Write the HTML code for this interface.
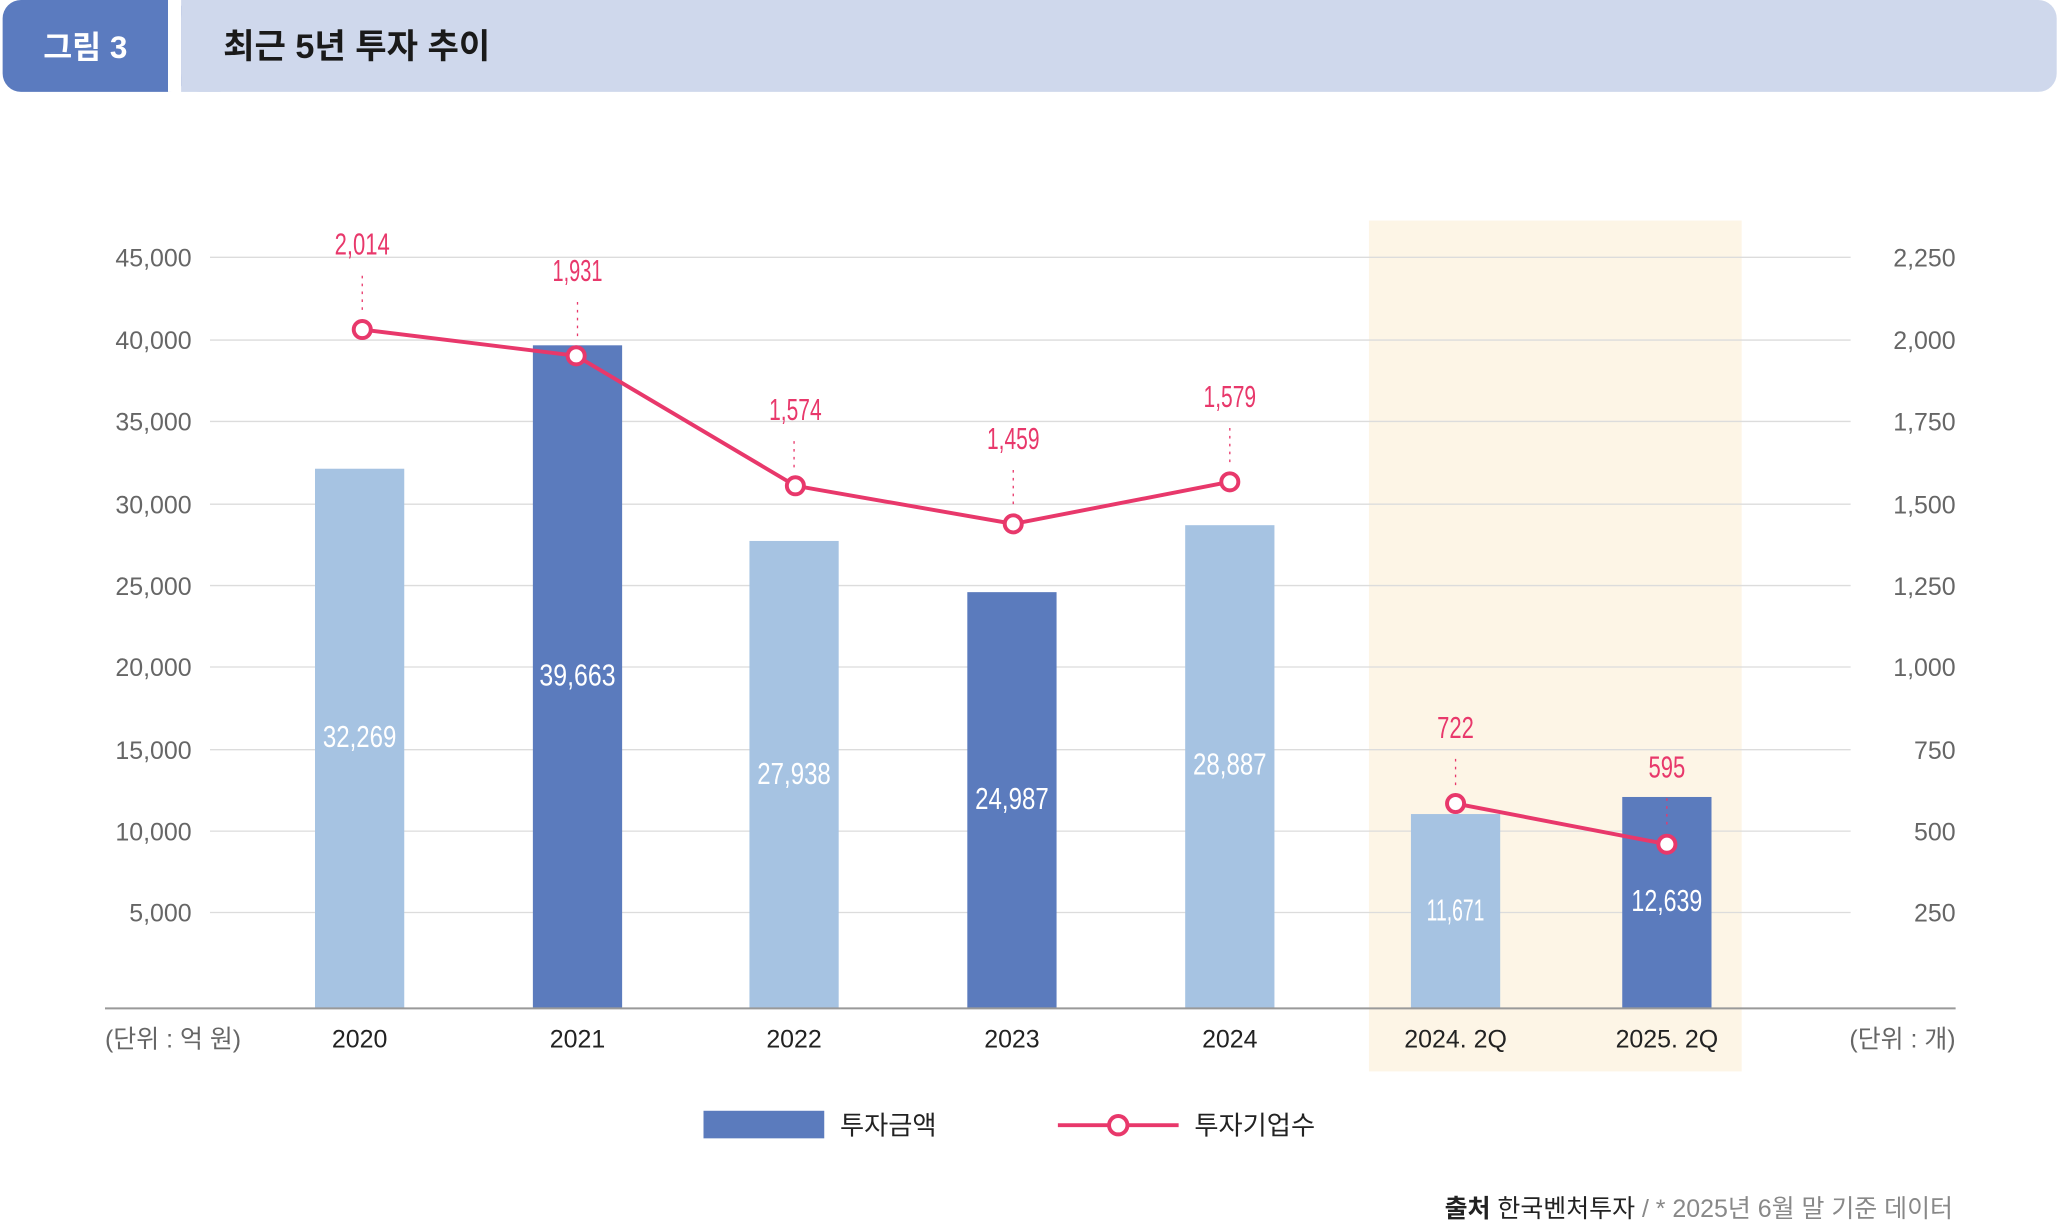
<!DOCTYPE html>
<html><head><meta charset="utf-8"><style>
html,body{margin:0;padding:0;background:#fff;}
svg{display:block;}
text{font-family:"Liberation Sans","Noto Sans CJK KR",sans-serif;}
</style></head><body>
<svg width="2058" height="1225" viewBox="0 0 1568 933" preserveAspectRatio="none" xmlns="http://www.w3.org/2000/svg">
<rect x="2" y="0" width="140" height="70" rx="14" fill="#5b7bbf"/>
<rect x="128" y="0" width="10" height="70" fill="#fff"/>
<text x="65" y="44" font-size="24" font-weight="bold" fill="#fff" text-anchor="middle">그림 3</text>
<rect x="138" y="0" width="1429" height="70" rx="14" fill="#cfd8ec"/>
<rect x="138" y="0" width="30" height="70" fill="#cfd8ec"/>
<text x="170" y="44" font-size="26" font-weight="bold" fill="#1a1a1a">최근 5년 투자 추이</text>

<rect x="1043" y="168" width="284" height="648" fill="#fdf5e6"/>

<g stroke="#dcdcdc" stroke-width="1">
<line x1="160" x2="1410" y1="196" y2="196"/><line x1="160" x2="1410" y1="259" y2="259"/>
<line x1="160" x2="1410" y1="321" y2="321"/><line x1="160" x2="1410" y1="384" y2="384"/>
<line x1="160" x2="1410" y1="446" y2="446"/><line x1="160" x2="1410" y1="508" y2="508"/>
<line x1="160" x2="1410" y1="571" y2="571"/><line x1="160" x2="1410" y1="633" y2="633"/>
<line x1="160" x2="1410" y1="695" y2="695"/>
</g>
<g font-size="19" fill="#666" text-anchor="end">
<text x="146" y="203">45,000</text><text x="146" y="266">40,000</text><text x="146" y="328">35,000</text>
<text x="146" y="391">30,000</text><text x="146" y="453">25,000</text><text x="146" y="515">20,000</text>
<text x="146" y="578">15,000</text><text x="146" y="640">10,000</text><text x="146" y="702">5,000</text>
</g>
<g font-size="19" fill="#666" text-anchor="end">
<text x="1490" y="203">2,250</text><text x="1490" y="266">2,000</text><text x="1490" y="328">1,750</text>
<text x="1490" y="391">1,500</text><text x="1490" y="453">1,250</text><text x="1490" y="515">1,000</text>
<text x="1490" y="578">750</text><text x="1490" y="640">500</text><text x="1490" y="702">250</text>
</g>

<rect x="240" y="357" width="68" height="411" fill="#a6c3e2"/>
<rect x="406" y="263" width="68" height="505" fill="#5b7bbd"/>
<rect x="571" y="412" width="68" height="356" fill="#a6c3e2"/>
<rect x="737" y="451" width="68" height="317" fill="#5b7bbd"/>
<rect x="903" y="400" width="68" height="368" fill="#a6c3e2"/>
<rect x="1075" y="620" width="68" height="148" fill="#a6c3e2"/>
<rect x="1236" y="607" width="68" height="161" fill="#5b7bbd"/>
<g font-size="23" fill="#fff" text-anchor="middle">
<text x="274" y="569" textLength="56" lengthAdjust="spacingAndGlyphs">32,269</text>
<text x="440" y="522" textLength="58" lengthAdjust="spacingAndGlyphs">39,663</text>
<text x="605" y="597" textLength="56" lengthAdjust="spacingAndGlyphs">27,938</text>
<text x="771" y="616" textLength="56" lengthAdjust="spacingAndGlyphs">24,987</text>
<text x="937" y="590" textLength="56" lengthAdjust="spacingAndGlyphs">28,887</text>
<text x="1109" y="701" textLength="44" lengthAdjust="spacingAndGlyphs">11,671</text>
<text x="1270" y="694" textLength="54" lengthAdjust="spacingAndGlyphs">12,639</text>
</g>
<line x1="80" x2="1490" y1="768" y2="768" stroke="#999" stroke-width="1.5"/>

<g stroke="#e8386b" stroke-width="1" stroke-dasharray="2,4">
<line x1="276" x2="276" y1="210" y2="240"/><line x1="440" x2="440" y1="230" y2="260"/>
<line x1="605" x2="605" y1="336" y2="360"/><line x1="772" x2="772" y1="358" y2="388"/>
<line x1="937" x2="937" y1="326" y2="356"/><line x1="1109" x2="1109" y1="578" y2="602"/>
<line x1="1270" x2="1270" y1="608" y2="632"/>
</g>
<polyline points="276,251 439,271 606,370 772,399 937,367" fill="none" stroke="#e8386b" stroke-width="3"/>
<polyline points="1109,612 1270,643" fill="none" stroke="#e8386b" stroke-width="3"/>
<g fill="#fff" stroke="#e8386b" stroke-width="3">
<circle cx="276" cy="251" r="6.5"/><circle cx="439" cy="271" r="6.5"/><circle cx="606" cy="370" r="6.5"/>
<circle cx="772" cy="399" r="6.5"/><circle cx="937" cy="367" r="6.5"/><circle cx="1109" cy="612" r="6.5"/>
<circle cx="1270" cy="643" r="6.5"/>
</g>
<g font-size="23" fill="#e8386b" text-anchor="middle">
<text x="276" y="194" textLength="42" lengthAdjust="spacingAndGlyphs">2,014</text>
<text x="440" y="214" textLength="38" lengthAdjust="spacingAndGlyphs">1,931</text>
<text x="606" y="320" textLength="40" lengthAdjust="spacingAndGlyphs">1,574</text>
<text x="772" y="342" textLength="40" lengthAdjust="spacingAndGlyphs">1,459</text>
<text x="937" y="310" textLength="40" lengthAdjust="spacingAndGlyphs">1,579</text>
<text x="1109" y="562" textLength="28" lengthAdjust="spacingAndGlyphs">722</text>
<text x="1270" y="592" textLength="28" lengthAdjust="spacingAndGlyphs">595</text>
</g>

<g font-size="19" fill="#222" text-anchor="middle">
<text x="274" y="798">2020</text><text x="440" y="798">2021</text><text x="605" y="798">2022</text>
<text x="771" y="798">2023</text><text x="937" y="798">2024</text><text x="1109" y="798">2024. 2Q</text>
<text x="1270" y="798">2025. 2Q</text>
</g>
<text x="80" y="798" font-size="19" fill="#666">(단위 : 억 원)</text>
<text x="1490" y="798" font-size="19" fill="#666" text-anchor="end">(단위 : 개)</text>

<rect x="536" y="846" width="92" height="21" fill="#5b7bbd"/>
<text x="640" y="864" font-size="20" fill="#222">투자금액</text>
<line x1="806" x2="898" y1="857" y2="857" stroke="#e8386b" stroke-width="3"/>
<circle cx="852" cy="857" r="7" fill="#fff" stroke="#e8386b" stroke-width="3"/>
<text x="910" y="864" font-size="20" fill="#222">투자기업수</text>

<text x="1488" y="927" font-size="19" fill="#888" text-anchor="end"><tspan font-weight="bold" fill="#222">출처</tspan><tspan fill="#222"> 한국벤처투자</tspan> / * 2025년 6월 말 기준 데이터</text>
</svg>
</body></html>
